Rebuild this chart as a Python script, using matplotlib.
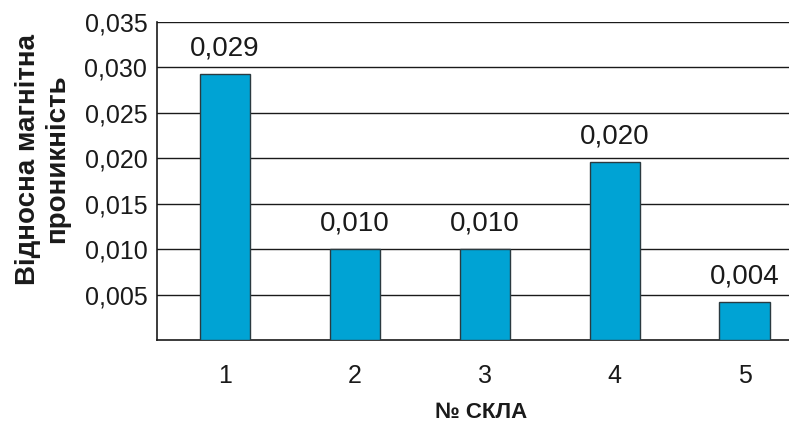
import matplotlib.pyplot as plt
from matplotlib.ticker import FuncFormatter

plt.rcParams['font.family'] = ['Liberation Sans', 'DejaVu Sans']

# номер скла та відносна магнітна проникність
glass = [1, 2, 3, 4, 5]
mu = [0.0293, 0.0100, 0.0100, 0.0196, 0.0042]
yticks = [0.005, 0.010, 0.015, 0.020, 0.025, 0.030, 0.035]


def comma(v, pos=None):
    return f'{v:.3f}'.replace('.', ',')


fig = plt.figure(figsize=(7.89, 4.23), dpi=100)
ax = fig.add_axes([0.199, 0.196, 0.801, 0.752])

ax.bar(glass, mu, width=0.39, color='#00a3d4', edgecolor='#2b3a40', linewidth=1.0, zorder=3)
for x, v in zip(glass, mu):
    ax.annotate(comma(v), (x, v), xytext=(0, 13.5), textcoords='offset points',
                ha='center', va='baseline', fontsize=20, color='#1a1a1a')

ax.set_xlim(0.477, 5.34)
ax.set_ylim(0, 0.035)
ax.set_yticks(yticks)
ax.yaxis.set_major_formatter(FuncFormatter(comma))
ax.set_xticks(glass)
ax.grid(axis='y', color='#1a1a1a', linewidth=1.0, zorder=0)
ax.tick_params(axis='both', length=0, labelsize=18, colors='#1a1a1a')
ax.tick_params(axis='x', pad=17)
ax.tick_params(axis='y', pad=7)

for s in ['top', 'right']:
    ax.spines[s].set_visible(False)
for s in ['left', 'bottom']:
    ax.spines[s].set_color('#1a1a1a')
    ax.spines[s].set_linewidth(1.2)

ax.set_ylabel('Відносна магнітна\nпроникність', fontsize=20, fontweight='bold',
              linespacing=1.15, color='#1a1a1a')
ax.yaxis.set_label_coords(-0.138, 0.569)
ax.set_xlabel('№ СКЛА', fontsize=16, fontweight='bold', labelpad=10, color='#1a1a1a')
ax.xaxis.label.set_x(0.513)

fig.savefig('out.png', dpi=100)
